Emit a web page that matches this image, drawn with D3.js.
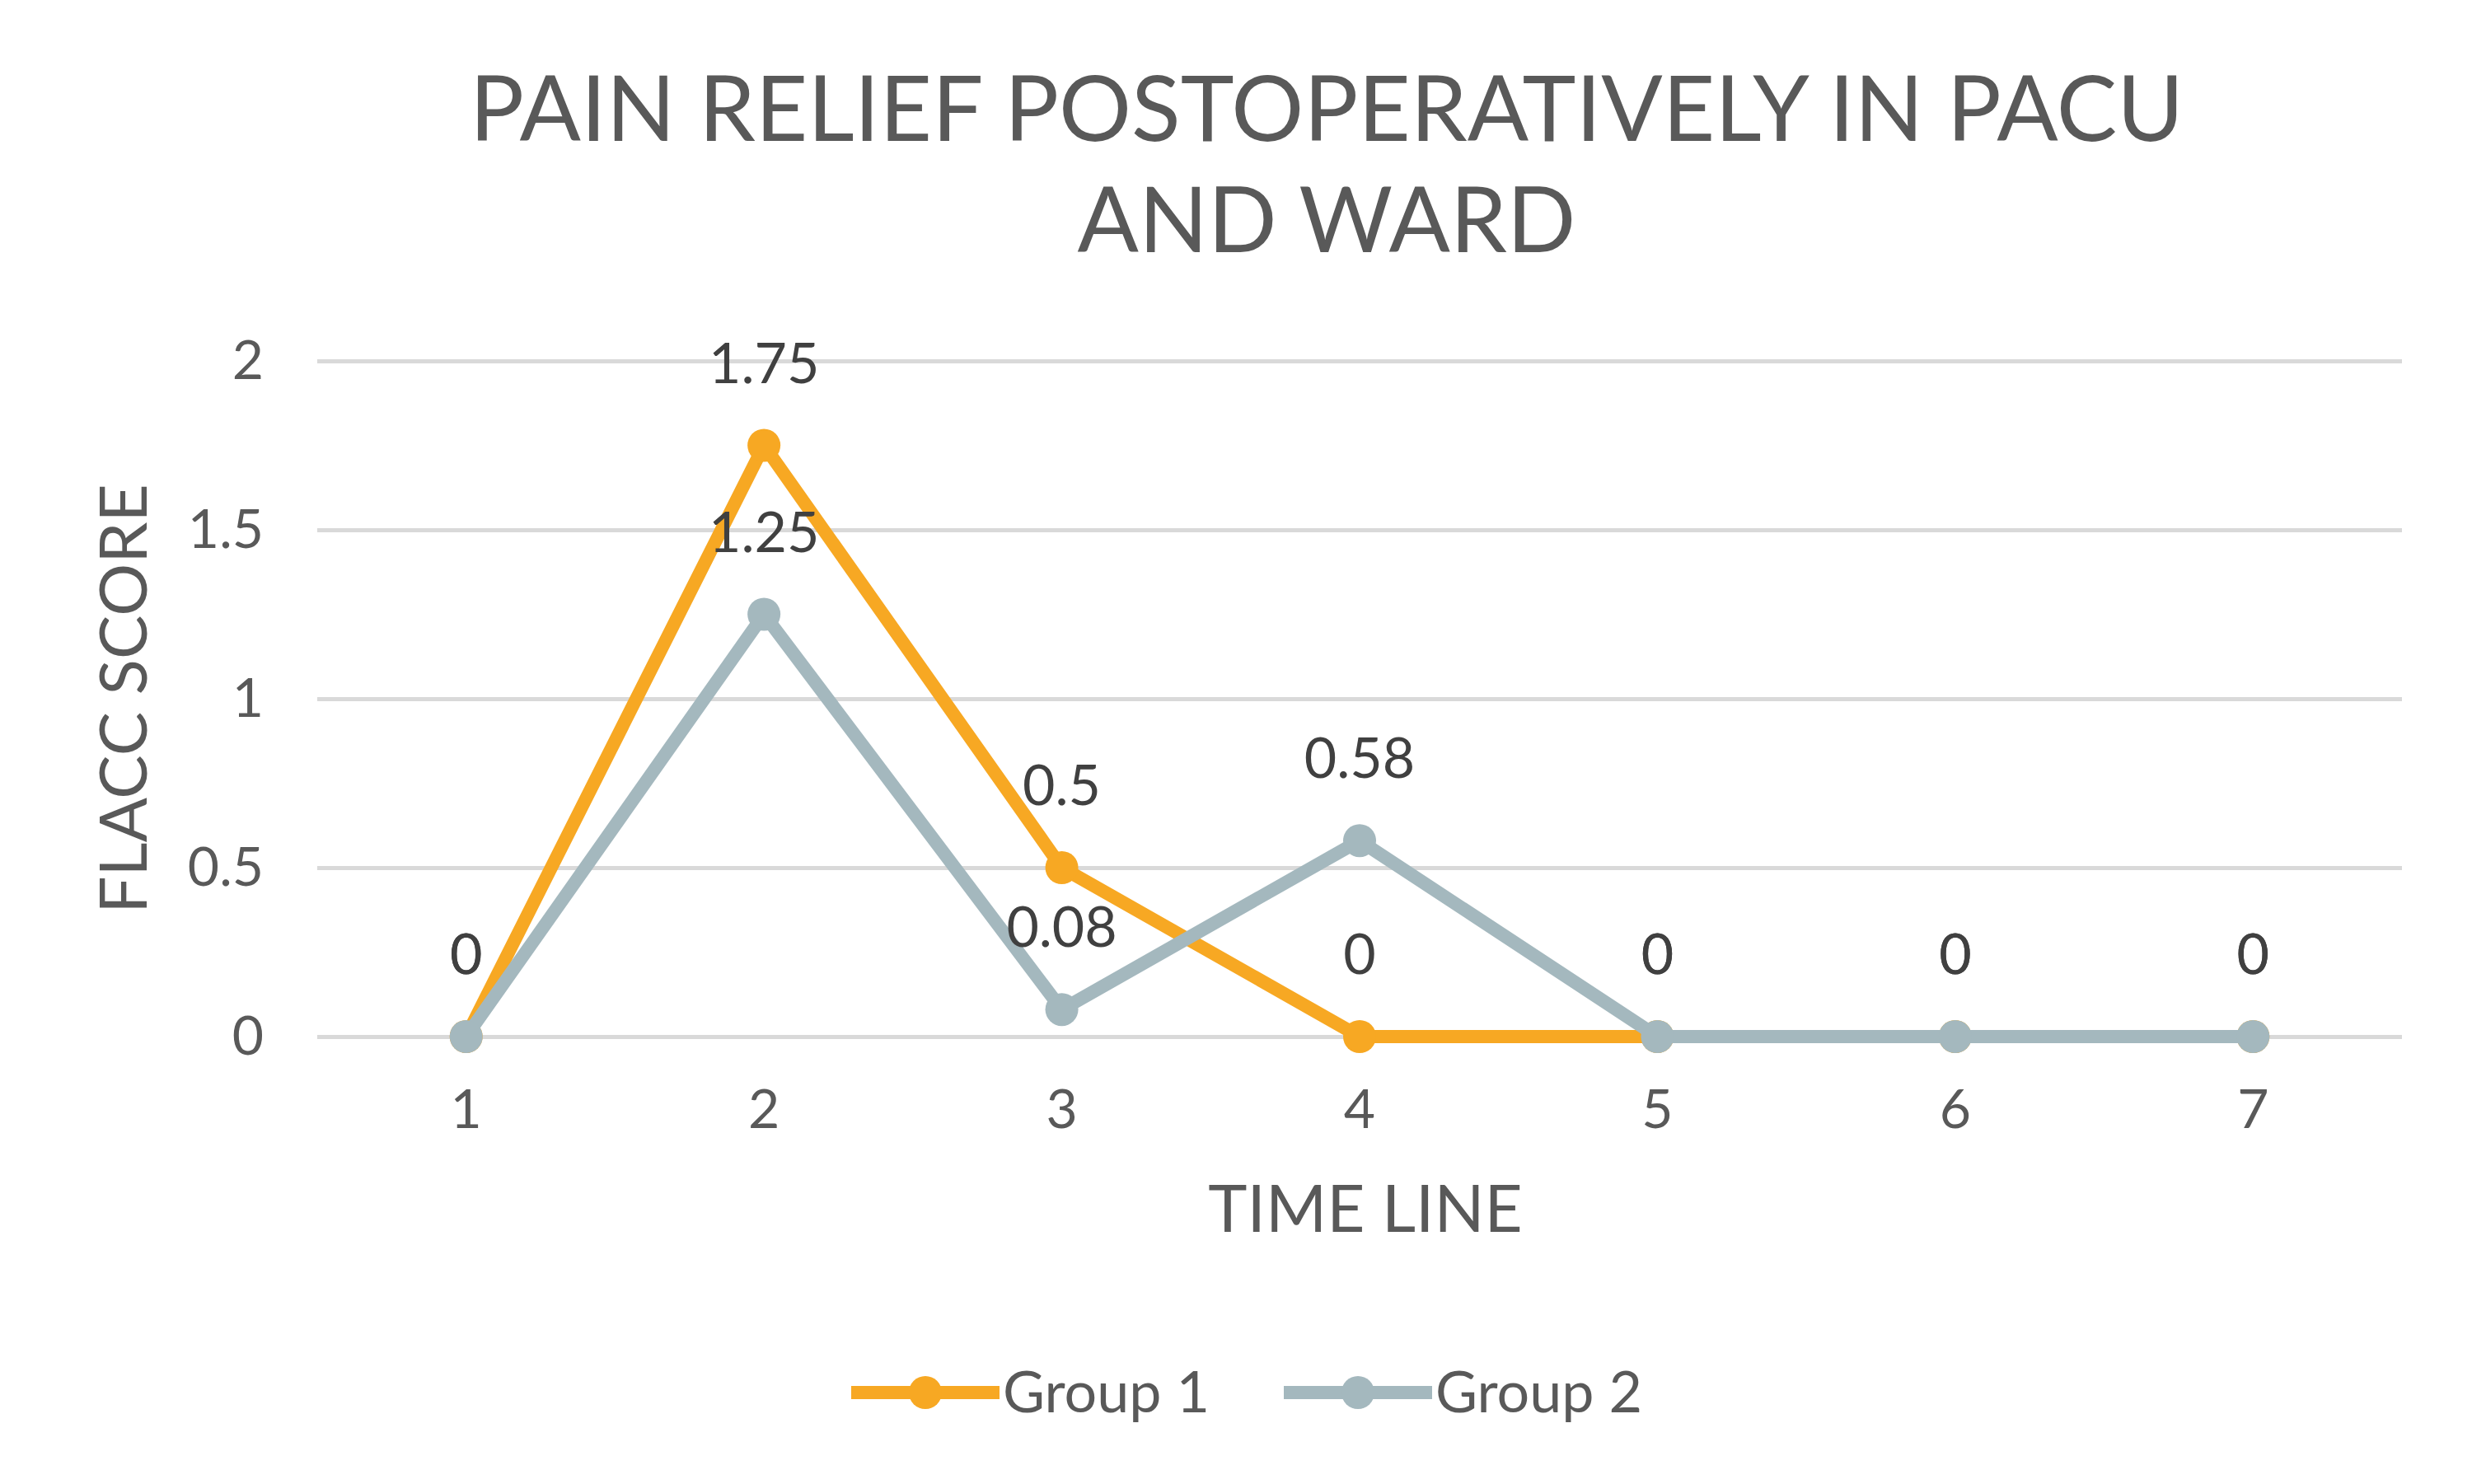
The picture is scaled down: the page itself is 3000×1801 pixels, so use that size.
<!DOCTYPE html>
<html>
<head>
<meta charset="utf-8">
<script src="https://cdn.jsdelivr.net/npm/d3@7"></script>
<style>
  body { margin: 0; background: #fff; }
  text { font-family: Lato, "Open Sans", sans-serif; }
</style>
</head>
<body>
<script>
// Pain relief postoperatively in PACU and ward - FLACC score line chart

var timeLine = ["1", "2", "3", "4", "5", "6", "7"];
var seriesNames = ["Group 1", "Group 2"];
var group1 = [0, 1.75, 0.5, 0, 0, 0, 0];
var group2 = [0, 1.25, 0.08, 0.58, 0, 0, 0];
var yTicks = [0, 0.5, 1, 1.5, 2];
var titleLines = ["PAIN RELIEF POSTOPERATIVELY IN PACU", "AND WARD"];

var width = 3000,
    height = 1801,
    svg = d3.select("body")
    .append("svg")
    .attr("width", width)
    .attr("height", height);

var colors = ["#f7a823", "#a4b8be"];

var x = d3.scaleBand()
    .domain(timeLine)
    .range([385, 2915]);

var y = d3.scaleLinear()
    .domain([0, 2])
    .range([1258, 438]);

// title
svg.append("g")
  .selectAll("text")
  .data(titleLines)
  .enter().append("text")
    .attr("x", 1610)
    .attr("y", function(d, i) { return 171 + i * 135; })
    .attr("text-anchor", "middle")
    .attr("font-size", 110)
    .attr("fill", "#595959")
    .text(function(d) { return d; });

// gridlines
svg.append("g")
    .attr("class", "grid")
    .attr("transform", "translate(385,0)")
    .call(d3.axisLeft(y)
      .tickValues(yTicks)
      .tickSize(-(2915 - 385))
      .tickFormat(""))
    .call(function(g) { g.select(".domain").remove(); })
    .selectAll("line")
      .attr("stroke", "#d9d9d9")
      .attr("stroke-width", 5);

// y axis labels
var yAxis = svg.append("g")
    .attr("transform", "translate(320,0)")
    .call(d3.axisLeft(y)
      .tickValues(yTicks)
      .tickSize(0)
      .tickPadding(0)
      .tickFormat(d3.format("")));
yAxis.select(".domain").remove();
yAxis.selectAll("text")
    .attr("font-size", 66)
    .attr("fill", "#595959")
    .attr("font-family", "Lato, sans-serif");

// x axis labels
var xAxis = svg.append("g")
    .attr("transform", "translate(0,1322)")
    .call(d3.axisBottom(x).tickSize(0).tickPadding(0));
xAxis.select(".domain").remove();
xAxis.selectAll("text")
    .attr("font-size", 66)
    .attr("fill", "#595959")
    .attr("font-family", "Lato, sans-serif");

// axis titles
svg.append("text")
    .attr("x", 1657)
    .attr("y", 1495)
    .attr("text-anchor", "middle")
    .attr("font-size", 80)
    .attr("fill", "#595959")
    .text("TIME LINE");

svg.append("text")
    .attr("transform", "translate(178,848) rotate(-90)")
    .attr("text-anchor", "middle")
    .attr("font-size", 80)
    .attr("fill", "#595959")
    .text("FLACC SCORE");

var series = [group1, group2];

var line = d3.line()
    .x(function(d, i) { return x(timeLine[i]) + x.bandwidth() / 2; })
    .y(function(d) { return y(d); });

var lines = svg.append("g")
  .selectAll("g")
  .data(series)
  .enter().append("g");

lines.append("path")
    .attr("d", line)
    .attr("fill", "none")
    .attr("stroke", function(d, i) { return colors[i]; })
    .attr("stroke-width", 16)
    .attr("stroke-linejoin", "round");

lines.selectAll("circle")
  .data(function(d, i) { return d.map(function(v) { return {v: v, s: i}; }); })
  .enter().append("circle")
    .attr("cx", function(d, i) { return x(timeLine[i]) + x.bandwidth() / 2; })
    .attr("cy", function(d) { return y(d.v); })
    .attr("r", 20)
    .attr("fill", function(d) { return colors[d.s]; });

// data labels
lines.selectAll("text")
  .data(function(d) { return d; })
  .enter().append("text")
    .attr("x", function(d, i) { return x(timeLine[i]) + x.bandwidth() / 2; })
    .attr("y", function(d) { return y(d) - 76; })
    .attr("text-anchor", "middle")
    .attr("font-size", 68)
    .attr("fill", "#404040")
    .text(function(d) { return d; });

// legend
var legend = svg.append("g")
  .selectAll("g")
  .data(seriesNames)
  .enter().append("g")
    .attr("transform", function(d, i) { return "translate(" + [1033, 1558][i] + ",1690)"; });

legend.append("line")
    .attr("x1", 0)
    .attr("x2", 180)
    .attr("stroke", function(d, i) { return colors[i]; })
    .attr("stroke-width", 16);

legend.append("circle")
    .attr("cx", 90)
    .attr("r", 20)
    .attr("fill", function(d, i) { return colors[i]; });

legend.append("text")
    .attr("x", 184)
    .attr("y", 24)
    .attr("font-size", 70)
    .attr("fill", "#595959")
    .text(function(d) { return d; });
</script>
</body>
</html>
